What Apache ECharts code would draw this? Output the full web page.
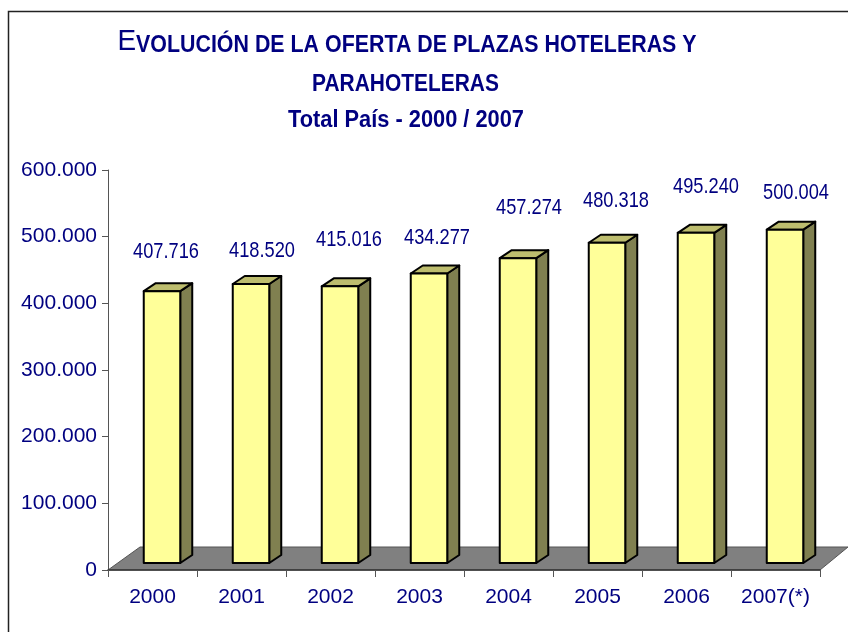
<!DOCTYPE html>
<html>
<head>
<meta charset="utf-8">
<title>Plazas hoteleras</title>
<script src="https://cdn.jsdelivr.net/npm/echarts@6/dist/echarts.min.js"></script>
<style>
html,body{margin:0;padding:0;background:#fff;}
#chart{width:848px;height:632px;}
</style>
</head>
<body>
<div id="chart"></div>
<script>
var years = ["2000","2001","2002","2003","2004","2005","2006","2007(*)"];
var plazas = [407716,418520,415016,434277,457274,480318,495240,500004];
var yTicks = [0,100000,200000,300000,400000,500000,600000];
//labels sit at hand-placed spots in the original, offsets from bar top
var labelDx = [4,11,9,8,11,9,10,11];
var labelDy = [-39,-33,-46,-36,-50,-42,-46,-37];

var NAVY = "#000080";
var FONT = "'Liberation Sans', Arial, sans-serif";
var chart = echarts.init(document.getElementById("chart"));

//miles con punto
function fmt(v){
    return String(v).replace(/\B(?=(\d{3})+$)/g,".");
}

function drawBar(params,api){
    var i = api.value(0);
    var p = api.coord([i,api.value(1)]);
    var zero = api.coord([i,0]);
    var w = api.size([1,0])[0]*0.41;
    var x0 = p[0]+9.5-w/2, x1 = x0+w;
    var top = p[1]-7, bot = zero[1]-7;
    var dx = 12, dy = 8;
    var line = {stroke:"#000",lineWidth:2,lineJoin:"round"};
    return {type:"group",children:[
        {type:"polygon",shape:{points:[[x1,top],[x1+dx,top-dy],[x1+dx,bot-dy],[x1,bot]]},
            style:Object.assign({fill:"#808050"},line)},
        {type:"polygon",shape:{points:[[x0,top],[x0+dx,top-dy],[x1+dx,top-dy],[x1,top]]},
            style:Object.assign({fill:"#BDBD6E"},line)},
        {type:"rect",shape:{x:x0,y:top,width:w,height:bot-top},
            style:Object.assign({fill:"#FFFF99"},line)},
        {type:"text",x:p[0]+9.5+labelDx[i],y:top+labelDy[i],scaleX:0.83,
            style:{text:fmt(api.value(1)),fill:NAVY,font:"22px "+FONT,textAlign:"center",textVerticalAlign:"middle"}}
    ]};
}

//suelo gris del grafico 3D
function drawFloor(params){
    var c = params.coordSys;
    var b = c.y+c.height;
    return {type:"polygon",shape:{points:[[c.x,b],[c.x+32,b-23],[c.x+c.width+28,b-23],[c.x+c.width,b]]},
        style:{fill:"#808080",stroke:"#555",lineWidth:1}};
}

var option = {
    animation:false,
    backgroundColor:"#fff",
    graphic:[
        {type:"polyline",shape:{points:[[8.5,640],[8.5,11.5],[860,11.5]]},style:{stroke:"#222",lineWidth:1.5,fill:null}},
        {type:"text",x:407,y:40,scaleX:0.93,style:{
            text:"{e|E}{b|VOLUCIÓN DE LA OFERTA DE PLAZAS HOTELERAS Y}",
            textAlign:"center",textVerticalAlign:"middle",fill:NAVY,
            rich:{
                e:{font:"30px "+FONT,fill:NAVY,verticalAlign:"bottom",lineHeight:34},
                b:{font:"bold 23px "+FONT,fill:NAVY,verticalAlign:"bottom",lineHeight:30}
            }}},
        {type:"text",x:405.5,y:85,scaleX:0.91,style:{text:"PARAHOTELERAS",font:"bold 23px "+FONT,fill:NAVY,textAlign:"center",textVerticalAlign:"middle"}},
        {type:"text",x:406,y:121,scaleX:0.948,style:{text:"Total País - 2000 / 2007",font:"bold 23px "+FONT,fill:NAVY,textAlign:"center",textVerticalAlign:"middle"}}
    ],
    grid:{left:108,top:170,width:712,height:400},
    xAxis:{
        type:"category",
        data:years,
        z:5,
        axisLine:{lineStyle:{color:"#333",width:1.5}},
        axisTick:{show:true,length:7,lineStyle:{color:"#555",width:1}},
        axisLabel:{color:NAVY,fontFamily:"Liberation Sans",fontSize:21,margin:17,interval:0}
    },
    yAxis:{
        type:"value",
        min:yTicks[0],
        max:yTicks[yTicks.length-1],
        interval:yTicks[1],
        splitLine:{show:false},
        axisLine:{show:true,lineStyle:{color:"#555",width:1}},
        axisTick:{show:true,length:6,lineStyle:{color:"#555",width:1}},
        axisLabel:{color:NAVY,fontFamily:"Liberation Sans",fontSize:21,margin:11,formatter:fmt}
    },
    series:[
        {type:"custom",renderItem:drawFloor,data:[[0,0]],z:1,silent:true},
        {type:"custom",renderItem:drawBar,z:2,encode:{x:0,y:1},
            data:plazas.map(function(v,i){return [i,v];})}
    ]
};
chart.setOption(option);
</script>
</body>
</html>
